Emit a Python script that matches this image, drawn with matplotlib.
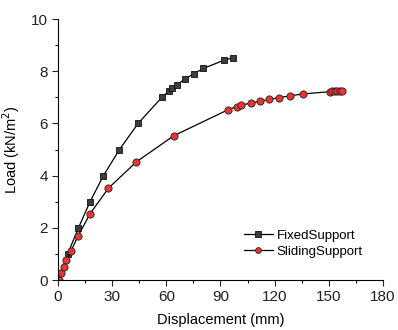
import matplotlib
matplotlib.use("Agg")
import matplotlib.pyplot as plt
from matplotlib.ticker import MultipleLocator

plt.rcParams['font.family'] = ['Liberation Sans', 'DejaVu Sans']

fixed_x = [0, 5.3, 11.3, 17.7, 25.1, 34.0, 44.3, 57.5, 61.5, 63.0, 65.7, 70.1, 75.1, 80.5, 92.1, 96.8]
fixed_y = [0, 1.0, 2.0, 3.0, 4.0, 5.0, 6.0, 7.0, 7.25, 7.35, 7.47, 7.7, 7.9, 8.11, 8.43, 8.52]

slide_x = [0.6, 1.6, 3.0, 4.6, 7.2, 11.1, 17.7, 27.9, 43.4, 64.1, 94.0, 99.1, 101.3, 106.7,
           111.7, 116.8, 122.4, 128.5, 135.5, 150.6, 151.9, 153.4, 154.7, 156.1, 157.3]
slide_y = [0, 0.26, 0.51, 0.75, 1.12, 1.69, 2.54, 3.52, 4.53, 5.53, 6.52, 6.65, 6.7, 6.78,
           6.85, 6.92, 6.99, 7.06, 7.13, 7.22, 7.23, 7.23, 7.24, 7.24, 7.25]

x_ticks = [0, 30, 60, 90, 120, 150, 180]
y_ticks = [0, 2, 4, 6, 8, 10]

fig = plt.figure(figsize=(3.98, 3.30), dpi=100)
ax = fig.add_axes([0.146, 0.1515, 0.816, 0.7905])

ax.plot(fixed_x, fixed_y, color='black', lw=0.9, marker='s', markersize=4.8,
        markerfacecolor='#3c3c3c', markeredgecolor='#111111', markeredgewidth=0.6,
        label='FixedSupport')
ax.plot(slide_x, slide_y, color='black', lw=0.9, marker='o', markersize=5.2,
        markerfacecolor='#ee3333', markeredgecolor='#222222', markeredgewidth=0.6,
        label='SlidingSupport')

ax.set_xlim(0, 180)
ax.set_ylim(0, 10)
ax.set_xticks(x_ticks)
ax.set_yticks(y_ticks)
ax.xaxis.set_minor_locator(MultipleLocator(15))
ax.yaxis.set_minor_locator(MultipleLocator(1))
ax.tick_params(which='major', direction='out', length=4, width=0.8, labelsize=11, colors='#222222')
ax.tick_params(which='minor', direction='out', length=2.5, width=0.8)
for s in ['top', 'right']:
    ax.spines[s].set_visible(False)
for s in ['left', 'bottom']:
    ax.spines[s].set_linewidth(0.8)

ax.set_xlabel('Displacement (mm)', fontsize=10.5, labelpad=6)
ax.set_ylabel('Load (kN/m$^2$)', fontsize=10.5, labelpad=6)

ax.legend(loc='lower right', bbox_to_anchor=(0.955, 0.065), frameon=False, fontsize=9.5,
          handlelength=2.2, handletextpad=0.3, labelspacing=0.3, borderaxespad=0,
          markerscale=0.8)

fig.savefig('out.png', dpi=100)
